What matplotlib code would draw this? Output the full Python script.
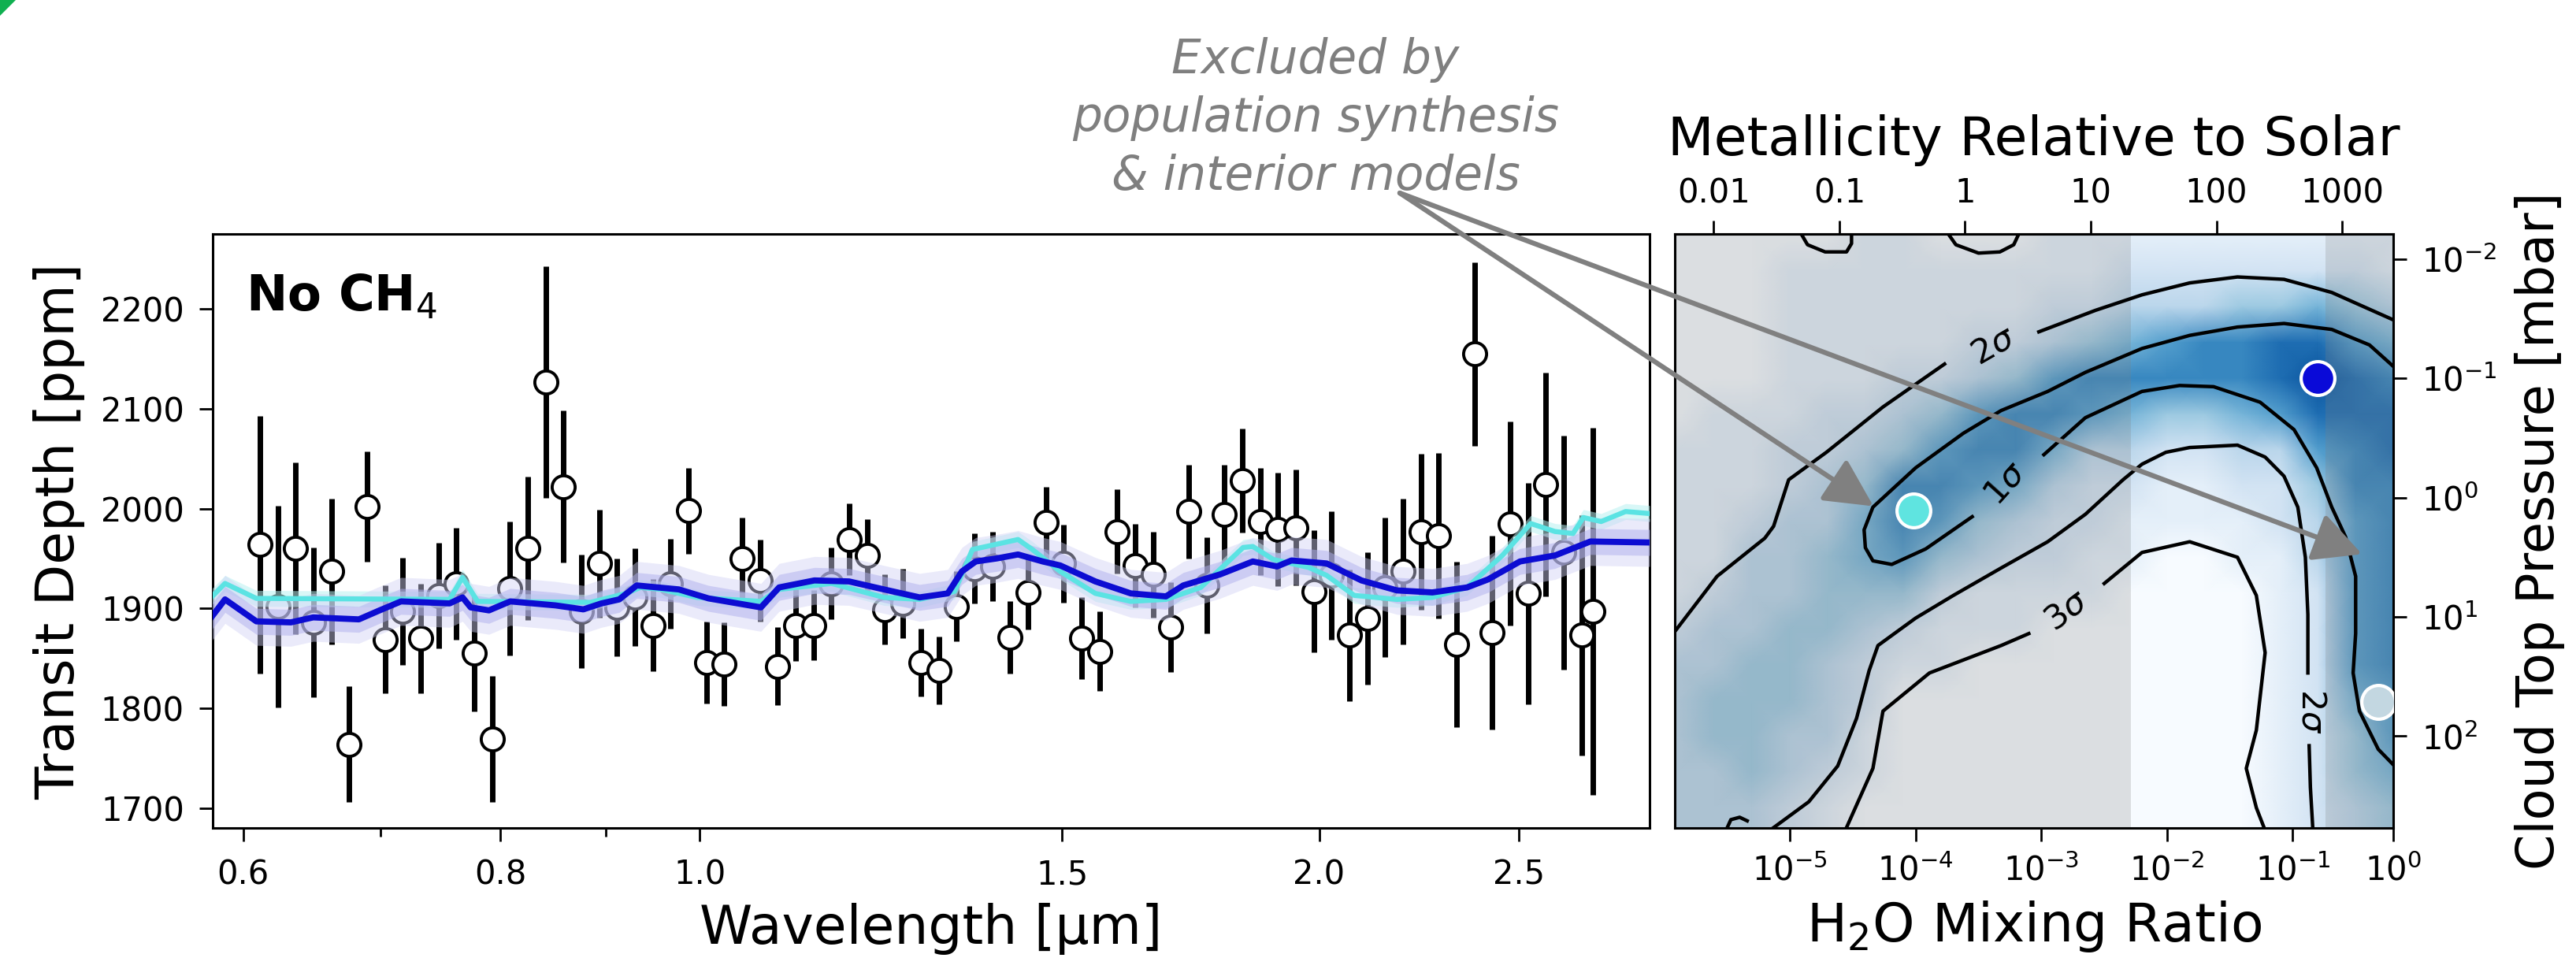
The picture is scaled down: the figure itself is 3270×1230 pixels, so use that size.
import numpy as np
import matplotlib
matplotlib.use("Agg")
import matplotlib.pyplot as plt
from matplotlib.patches import Polygon

# ---------------------------------------------------------------
# Left panel: transit spectrum
# ---------------------------------------------------------------
wavelength = [0.6114, 0.6238, 0.6364, 0.6492, 0.6623, 0.6757, 0.6893, 0.7032, 0.7174, 0.7319,
              0.7467, 0.7617, 0.7771, 0.7928, 0.8088, 0.8251, 0.8417, 0.8587, 0.8761, 0.8937,
              0.9119, 0.9302, 0.9490, 0.9682, 0.9877, 1.0077, 1.0280, 1.0488, 1.0699, 1.0915,
              1.1135, 1.1360, 1.1589, 1.1823, 1.2062, 1.2305, 1.2554, 1.2807, 1.3066, 1.3329,
              1.3598, 1.3873, 1.4153, 1.4438, 1.4730, 1.5027, 1.5330, 1.5640, 1.5955, 1.6277,
              1.6606, 1.6941, 1.7283, 1.7632, 1.7988, 1.8351, 1.8721, 1.9099, 1.9484, 1.9877,
              2.0278, 2.0688, 2.1105, 2.1531, 2.1966, 2.2409, 2.2861, 2.3322, 2.3793, 2.4273,
              2.4763, 2.5263, 2.5772, 2.6292, 2.6823, 2.7170]
depth = [1964, 1902, 1960, 1886, 1937, 1764, 2002, 1869, 1897, 1870,
         1913, 1925, 1855, 1769, 1920, 1960, 2127, 2022, 1897, 1945,
         1901, 1911, 1883, 1925, 1998, 1846, 1844, 1950, 1928, 1842,
         1883, 1883, 1925, 1969, 1953, 1899, 1905, 1846, 1838, 1902,
         1940, 1942, 1871, 1916, 1986, 1945, 1870, 1857, 1977, 1943,
         1934, 1881, 1997, 1923, 1994, 2028, 1987, 1979, 1981, 1917,
         1933, 1873, 1890, 1921, 1937, 1977, 1973, 1864, 2155, 1876,
         1985, 1915, 2024, 1956, 1873, 1897]
depth_err = [129, 101, 86, 75, 73, 58, 55, 54, 54, 55,
             53, 56, 58, 63, 67, 72, 116, 76, 57, 54,
             49, 49, 46, 45, 43, 41, 42, 41, 41, 39,
             36, 35, 36, 36, 36, 35, 35, 34, 34, 35,
             35, 35, 36, 37, 36, 39, 41, 40, 42, 42,
             43, 45, 47, 48, 50, 52, 54, 57, 58, 61,
             64, 66, 66, 70, 73, 78, 83, 83, 92, 97,
             102, 111, 112, 117, 120, 184]

# best-fit model (dark blue) and alternative model (cyan)
model_wl = [0.579, 0.588, 0.609, 0.633, 0.649, 0.683, 0.699, 0.716, 0.756, 0.767,
            0.774, 0.790, 0.809, 0.851, 0.878, 0.896, 0.914, 0.932, 0.977, 1.010,
            1.071, 1.093, 1.137, 1.182, 1.229, 1.279, 1.320, 1.341, 1.362, 1.394,
            1.428, 1.468, 1.497, 1.557, 1.620, 1.685, 1.718, 1.790, 1.857, 1.908,
            1.939, 2.017, 2.097, 2.182, 2.270, 2.360, 2.416, 2.504, 2.604, 2.709, 2.895]
model_ppm = [1891, 1909, 1887, 1886, 1891, 1889, 1898, 1907, 1905, 1911,
             1901, 1898, 1907, 1903, 1899, 1905, 1909, 1923, 1919, 1910,
             1901, 1921, 1928, 1927, 1919, 1911, 1915, 1937, 1947, 1950,
             1954, 1947, 1943, 1927, 1915, 1912, 1923, 1934, 1947, 1942,
             1948, 1945, 1928, 1918, 1916, 1921, 1929, 1947, 1953, 1967, 1966]
alt_wl = [0.579, 0.588, 0.609, 0.756, 0.767, 0.780, 0.885, 0.921, 0.936, 0.958,
          0.997, 1.071, 1.093, 1.159, 1.229, 1.279, 1.330, 1.357, 1.428, 1.451,
          1.497, 1.557, 1.620, 1.685, 1.752, 1.837, 1.857, 1.900, 1.977, 2.017,
          2.080, 2.182, 2.270, 2.360, 2.455, 2.534, 2.604, 2.657, 2.688, 2.742,
          2.818, 2.895]
alt_ppm = [1911, 1925, 1910, 1909, 1931, 1907, 1906, 1915, 1921, 1919,
           1911, 1907, 1919, 1925, 1911, 1909, 1917, 1959, 1969, 1959,
           1937, 1915, 1907, 1909, 1921, 1961, 1962, 1949, 1941, 1933,
           1913, 1909, 1911, 1921, 1953, 1985, 1977, 1975, 1991, 1987,
           1997, 1995]
band_inner = 13
band_outer = 24
alt_band = 8

# ---------------------------------------------------------------
# Right panel: posterior of log H2O vs log cloud-top pressure
# ---------------------------------------------------------------
grid_logh2o = [-5.9, -5.6, -5.3, -5.0, -4.7, -4.4, -4.1, -3.8, -3.5, -3.2,
               -2.9, -2.6, -2.3, -2.0, -1.7, -1.4, -1.1, -0.8, -0.5, -0.2]
grid_logp = [-2.2, -1.9, -1.6, -1.3, -1.0, -0.7, -0.4, -0.1, 0.2, 0.5,
             0.8, 1.1, 1.4, 1.7, 2.0, 2.3, 2.6, 2.8]
# shading level (tenths) per row of grid_logp
density = [
    [0, 0, 0, 0, 0, 1, 1, 0, 0, 0, 1, 1, 1, 1, 1, 1, 1, 1, 1, 1],
    [0, 0, 0, 1, 1, 1, 1, 1, 1, 1, 1, 1, 2, 2, 2, 2, 2, 2, 2, 1],
    [0, 0, 0, 1, 1, 1, 1, 1, 1, 1, 2, 2, 3, 3, 3, 4, 4, 5, 4, 3],
    [0, 0, 0, 1, 1, 1, 1, 1, 2, 2, 3, 4, 5, 6, 7, 7, 8, 8, 6, 5],
    [0, 0, 0, 1, 1, 1, 2, 2, 3, 4, 6, 7, 7, 7, 7, 7, 8, 9, 8, 7],
    [0, 1, 1, 1, 2, 2, 3, 4, 6, 7, 7, 6, 5, 4, 4, 5, 6, 8, 8, 8],
    [1, 1, 1, 2, 2, 3, 4, 6, 7, 7, 5, 3, 3, 2, 2, 3, 3, 6, 7, 8],
    [1, 1, 1, 2, 3, 4, 7, 7, 6, 5, 3, 2, 2, 1, 1, 2, 2, 4, 7, 7],
    [1, 1, 2, 3, 3, 5, 7, 6, 4, 3, 2, 2, 1, 1, 1, 1, 2, 3, 6, 7],
    [1, 1, 3, 3, 4, 5, 6, 4, 3, 2, 2, 1, 1, 0, 0, 1, 1, 3, 6, 7],
    [1, 2, 3, 3, 4, 4, 4, 2, 1, 1, 1, 1, 0, 0, 0, 0, 1, 2, 6, 7],
    [2, 3, 3, 4, 4, 3, 2, 1, 1, 1, 0, 0, 0, 0, 0, 0, 1, 2, 6, 7],
    [3, 3, 4, 4, 3, 2, 1, 1, 0, 0, 0, 0, 0, 0, 0, 0, 1, 2, 6, 7],
    [3, 4, 4, 4, 3, 2, 0, 0, 0, 0, 0, 0, 0, 0, 0, 0, 1, 2, 5, 6],
    [3, 4, 4, 3, 3, 1, 0, 0, 0, 0, 0, 0, 0, 0, 0, 0, 1, 2, 4, 6],
    [3, 3, 4, 3, 2, 1, 0, 0, 0, 0, 0, 0, 0, 0, 0, 0, 1, 2, 4, 5],
    [3, 3, 3, 2, 1, 0, 0, 0, 0, 0, 0, 0, 0, 0, 0, 0, 1, 2, 3, 4],
    [3, 3, 3, 2, 1, 0, 0, 0, 0, 0, 0, 0, 0, 0, 0, 0, 1, 2, 3, 4],
]
nan = np.nan
# confidence contours (log H2O, log P); nan = gap for the label
sig1 = [(-0.20, -1.10), (-0.39, -1.28), (-0.69, -1.41), (-1.07, -1.46), (-1.44, -1.43),
        (-1.82, -1.36), (-2.20, -1.25), (-2.65, -1.05), (-2.95, -0.89), (-3.32, -0.73),
        (-3.62, -0.54), (-4.00, -0.25), (-4.34, 0.08), (-4.41, 0.27), (-4.40, 0.42),
        (-4.34, 0.53), (-4.19, 0.56), (-3.92, 0.43), (-3.55, 0.16), (nan, nan),
        (-2.98, -0.36), (-2.65, -0.67), (-2.20, -0.89), (-1.90, -0.94), (-1.63, -0.93),
        (-1.26, -0.80), (-0.99, -0.57), (-0.81, -0.25), (-0.69, 0.08), (-0.58, 0.33),
        (-0.50, 0.66), (-0.50, 1.14), (-0.52, 1.47), (-0.47, 1.79), (-0.32, 2.11), (-0.20, 2.24)]
sig2_outer = [(-5.95, 1.17), (-5.58, 0.66), (-5.20, 0.34), (-5.13, 0.24), (-5.01, -0.15),
              (-4.71, -0.38), (-4.26, -0.76), (-3.77, -1.12), (nan, nan), (-3.02, -1.39),
              (-2.57, -1.57), (-2.20, -1.70), (-1.82, -1.80), (-1.44, -1.85), (-1.07, -1.83),
              (-0.69, -1.72), (-0.20, -1.49)]
sig2_inner = [(-5.16, 2.79), (-4.85, 2.55), (-4.62, 2.25), (-4.47, 1.85), (-4.37, 1.45),
              (-4.30, 1.24), (-4.00, 1.01), (-3.70, 0.82), (-3.32, 0.59), (-2.95, 0.37),
              (-2.65, 0.14), (-2.35, -0.15), (-2.20, -0.28), (-2.01, -0.38), (-1.82, -0.42),
              (-1.44, -0.44), (-1.22, -0.34), (-1.07, -0.18), (-0.96, 0.08), (-0.90, 0.50),
              (-0.88, 0.98), (-0.88, 1.47), (nan, nan), (-0.87, 2.08), (-0.86, 2.43), (-0.84, 2.79)]
sig3 = [(-4.56, 2.79), (-4.34, 2.27), (-4.26, 1.79), (-3.89, 1.47), (-3.32, 1.24),
        (-3.10, 1.14), (nan, nan), (-2.50, 0.72), (-2.20, 0.46), (-1.82, 0.37),
        (-1.44, 0.50), (-1.29, 0.82), (-1.22, 1.30), (-1.29, 1.95), (-1.37, 2.27),
        (-1.29, 2.60), (-1.22, 2.79)]
sig3_top1 = [(-4.91, -2.21), (-4.86, -2.12), (-4.72, -2.06), (-4.55, -2.06), (-4.51, -2.13), (-4.51, -2.21)]
sig3_top2 = [(-3.74, -2.21), (-3.68, -2.12), (-3.50, -2.05), (-3.33, -2.06), (-3.22, -2.12), (-3.18, -2.21)]
sig_stub = [(-5.50, 2.77), (-5.47, 2.70), (-5.40, 2.68), (-5.34, 2.71)]

# contour labels: text, log H2O, log P, rotation
sig_labels = [(r"$2\sigma$", -3.38, -1.27, 30), (r"$1\sigma$", -3.29, -0.12, 48),
              (r"$3\sigma$", -2.80, 0.95, 37), (r"$2\sigma$", -0.85, 1.79, -90)]

# highlighted solutions (log H2O, log P, colour)
highlight = [(-4.02, 0.11, "#5fe4e0"), (-0.80, -1.00, "#0a0ad8"), (-0.32, 1.71, "#c3d7e1")]

excluded_low = -2.29    # below ~20x solar
excluded_high = -0.737  # above ~740x solar
solar_offset = 3.607    # log Z = log H2O + offset

met_ticks = [-2, -1, 0, 1, 2, 3]
met_labels = ["0.01", "0.1", "1", "10", "100", "1000"]
h2o_ticks = [-5, -4, -3, -2, -1, -0.2]
h2o_labels = [r"$\mathdefault{10^{-5}}$", r"$\mathdefault{10^{-4}}$", r"$\mathdefault{10^{-3}}$",
              r"$\mathdefault{10^{-2}}$", r"$\mathdefault{10^{-1}}$", r"$\mathdefault{10^{0}}$"]
p_ticks = [-2, -1, 0, 1, 2]
p_labels = [r"$\mathdefault{10^{-2}}$", r"$\mathdefault{10^{-1}}$", r"$\mathdefault{10^{0}}$",
            r"$\mathdefault{10^{1}}$", r"$\mathdefault{10^{2}}$"]

# ---------------------------------------------------------------
plt.rcParams["font.family"] = "DejaVu Sans"
plt.rcParams["axes.linewidth"] = 2.2

fig = plt.figure(figsize=(32.7, 12.3), dpi=100)
ax1 = fig.add_axes([0.0826, 0.1455, 0.5578, 0.6130])
ax2 = fig.add_axes([0.6502, 0.1455, 0.2789, 0.6130])

# --- left panel
wl_m = np.array(model_wl)
pp_m = np.array(model_ppm)
wl_a = np.array(alt_wl)
pp_a = np.array(alt_ppm)

ax1.errorbar(wavelength, depth, yerr=depth_err, fmt="o", color="black", ecolor="black",
             elinewidth=5, capsize=0, ms=21, mfc="white", mec="black", mew=2.8, zorder=2)
ax1.fill_between(wl_a, pp_a - alt_band, pp_a + alt_band, color="#b9f2f2", alpha=0.55, lw=0, zorder=3)
ax1.fill_between(wl_m, pp_m - band_outer, pp_m + band_outer, color="#d2d2f5", alpha=0.45, lw=0, zorder=3)
ax1.fill_between(wl_m, pp_m - band_inner, pp_m + band_inner, color="#b0b0ee", alpha=0.5, lw=0, zorder=3)
ax1.plot(wl_a, pp_a, color="#5be3e3", lw=4.6, zorder=4, solid_joinstyle="round")
ax1.plot(wl_m, pp_m, color="#0c0cd2", lw=5.6, zorder=5, solid_joinstyle="round")

ax1.set_xscale("log")
ax1.set_xlim(0.58, 2.895)
ax1.set_ylim(1680, 2275)
ax1.set_xticks([0.6, 0.8, 1.0, 1.5, 2.0, 2.5])
ax1.set_xticklabels(["0.6", "0.8", "1.0", "1.5", "2.0", "2.5"])
ax1.set_xticks([0.7, 0.9], minor=True)
ax1.xaxis.set_minor_formatter(matplotlib.ticker.NullFormatter())
ax1.set_yticks([1700, 1800, 1900, 2000, 2100, 2200])
ax1.tick_params(axis="both", which="major", labelsize=30, length=12, width=2)
ax1.tick_params(axis="x", which="major", pad=16)
ax1.tick_params(axis="y", which="major", pad=14)
ax1.tick_params(axis="x", which="minor", length=8, width=2)
ax1.set_xlabel("Wavelength [μm]", fontsize=49, labelpad=10)
ax1.set_ylabel("Transit Depth [ppm]", fontsize=49, labelpad=14)
ax1.text(0.023, 0.871, r"No CH$_4$", transform=ax1.transAxes, fontsize=45,
         fontweight="bold", ha="left", va="baseline")

# --- right panel
ax2.set_facecolor("#f7fbff")
ax2.pcolormesh(grid_logh2o, grid_logp, np.array(density) / 10.0, cmap="Blues",
               vmin=0, vmax=1.05, shading="gouraud", zorder=0)
ax2.axvspan(-6.5, excluded_low, color="#808080", alpha=0.23, lw=0, zorder=1)
ax2.axvspan(excluded_high, 0.5, color="#808080", alpha=0.23, lw=0, zorder=1)

for path in [sig1, sig2_outer, sig2_inner, sig3, sig3_top1, sig3_top2, sig_stub]:
    xy = np.array(path)
    ax2.plot(xy[:, 0], xy[:, 1], color="black", lw=3.2, zorder=2, solid_joinstyle="round")
for txt, lx, ly, rot in sig_labels:
    ax2.text(lx, ly, txt, fontsize=31, rotation=rot, rotation_mode="anchor",
             ha="center", va="center", zorder=3)

for hx, hy, hc in highlight:
    ax2.scatter([hx], [hy], s=950, color=hc, edgecolors="white", linewidths=3, zorder=5)

ax2.set_xlim(-5.915, -0.2)
ax2.set_ylim(2.77, -2.21)
ax2.set_xticks(h2o_ticks)
ax2.set_xticklabels(h2o_labels)
ax2.set_yticks(p_ticks)
ax2.set_yticklabels(p_labels)
ax2.yaxis.tick_right()
ax2.yaxis.set_label_position("right")
ax2.tick_params(axis="both", labelsize=30, length=12, width=2, top=False, left=False)
ax2.tick_params(axis="x", pad=12)
ax2.tick_params(axis="y", pad=14)
ax2.set_xlabel(r"H$_2$O Mixing Ratio", fontsize=49, labelpad=10)
ax2.set_ylabel("Cloud Top Pressure [mbar]", fontsize=47, labelpad=16)

secax = ax2.secondary_xaxis("top", functions=(lambda x: x + solar_offset,
                                              lambda z: z - solar_offset))
secax.set_xticks(met_ticks)
secax.set_xticklabels(met_labels)
secax.tick_params(labelsize=30, length=12, width=2, pad=10)
secax.set_xlabel("Metallicity Relative to Solar", fontsize=49, labelpad=20)

# --- annotation with arrows
fig.text(0.5107, 0.878, "Excluded by\npopulation synthesis\n& interior models",
         ha="center", va="center", fontsize=43, style="italic", color="#7f7f7f",
         linespacing=1.34)
arrow_start = (0.5434, 0.8008)
for tip in [(-4.336, 0.072), (-0.449, 0.474)]:
    ax2.annotate("", xy=tip, xycoords="data", xytext=arrow_start,
                 textcoords="figure fraction", annotation_clip=False,
                 arrowprops=dict(arrowstyle="-|>,head_length=0.55,head_width=0.28",
                                 mutation_scale=68, color="#808080", lw=4.5,
                                 shrinkA=0, shrinkB=0), zorder=10)

# small green corner mark
fig.add_artist(Polygon([(0, 1), (20 / 3270, 1), (0, 1 - 20 / 1230)], closed=True,
                       transform=fig.transFigure, color="#10b050", lw=0))

fig.savefig("out.png", dpi=100)
